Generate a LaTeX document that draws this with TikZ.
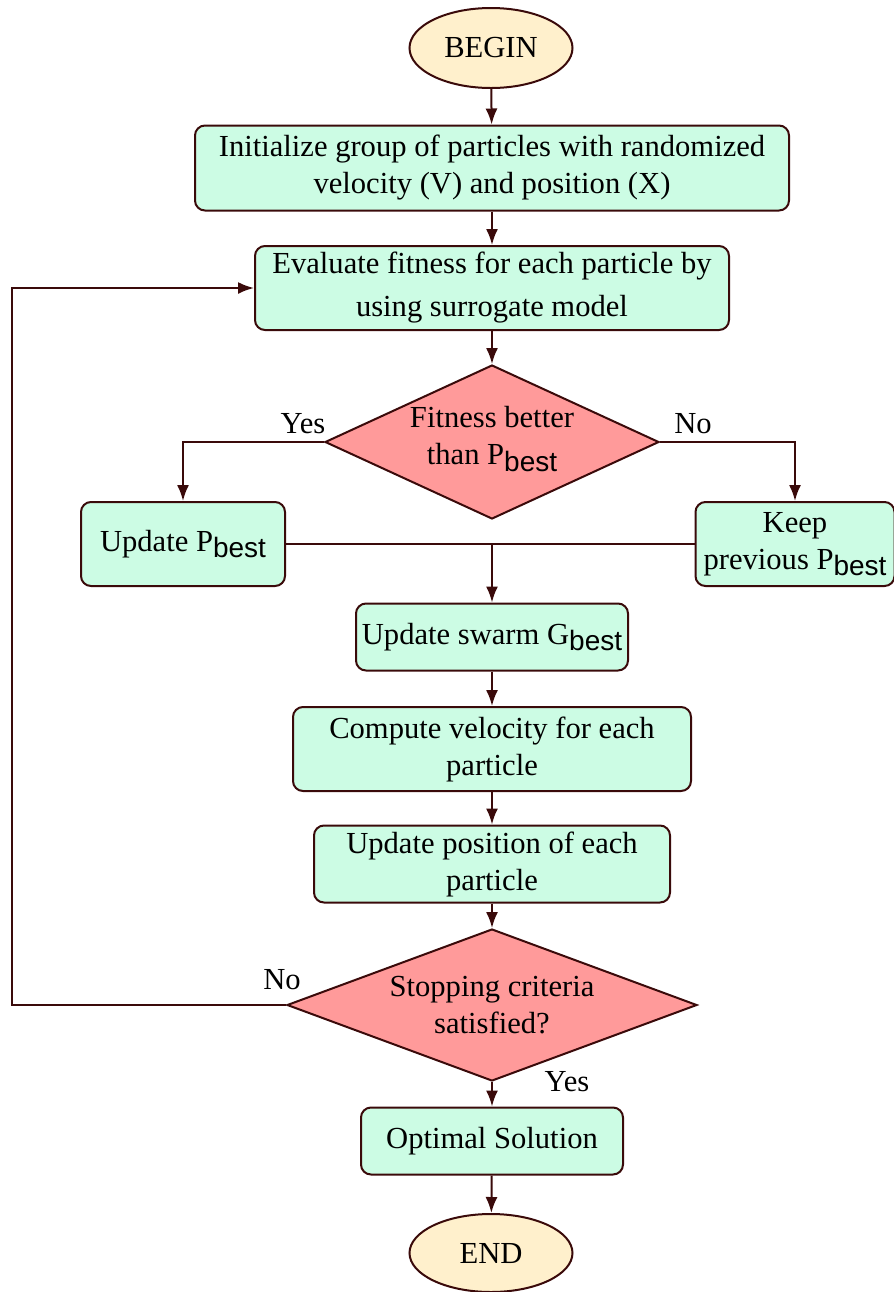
\documentclass[tikz,border=0pt]{standalone}
\usepackage{fontspec}
\setmainfont{Liberation Serif}
\setsansfont{Liberation Sans}
\usetikzlibrary{positioning,shapes.geometric,arrows.meta}
\definecolor{edge}{HTML}{3A0A0A}
\definecolor{boxfill}{HTML}{CCFCE4}
\definecolor{decfill}{HTML}{FF9A9A}
\definecolor{endfill}{HTML}{FFF0CC}
\newcommand{\best}{\raisebox{-0.45ex}{\fontsize{14}{16}\sffamily best}}

\tikzset{
  proc/.style={draw=edge, line width=1pt, fill=boxfill, rounded corners=5pt,
    align=center, inner sep=0pt},
  dec/.style={draw=edge, line width=1pt, fill=decfill, diamond, inner sep=0pt},
  term/.style={draw=edge, line width=1pt, fill=endfill, ellipse, inner sep=0pt},
  arr/.style={draw=edge, line width=1pt, -{Latex[length=8pt,width=6pt]}},
  lin/.style={draw=edge, line width=1pt},
}

\begin{document}
\begin{tikzpicture}[x=0.5pt, y=-0.5pt, font=\fontsize{15.3}{18.5}\selectfont]
  \useasboundingbox (0,0) rectangle (894,1292);

  \node (begin) [term, minimum width=81.5pt, minimum height=40pt] at (491,48) {BEGIN};
  \node (init) [proc, minimum width=297pt, minimum height=42.5pt] at (492,168)
    {Initialize group of particles with randomized\\velocity (V) and position (X)};
  \node (eval) [proc, minimum width=237pt, minimum height=42pt] at (492,288)
    {Evaluate fitness for each particle by\\[3pt]using surrogate model};
  \node (dec1) [dec, minimum width=167pt, minimum height=77pt,
    label={[align=center, yshift=1.5pt]center:Fitness better\\than P\best}] at (492,442) {};
  \node (upd) [proc, minimum width=102pt, minimum height=42pt] at (183,544)
    {Update P\best};
  \node (keep) [proc, minimum width=99.5pt, minimum height=42pt] at (795,544)
    {Keep\\previous P\best};
  \node (swarm) [proc, minimum width=136pt, minimum height=33.5pt] at (492,637)
    {Update swarm G\best};
  \node (comp) [proc, minimum width=199pt, minimum height=42pt] at (492,749)
    {Compute velocity for each\\particle};
  \node (pos) [proc, minimum width=178pt, minimum height=38.5pt] at (492,864)
    {Update position of each\\particle};
  \node (dec2) [dec, minimum width=205pt, minimum height=76pt,
    label={[align=center]center:Stopping criteria\\satisfied?}] at (492,1005) {};
  \node (opt) [proc, minimum width=131pt, minimum height=33.5pt] at (492,1141)
    {Optimal Solution};
  \node (end) [term, minimum width=81.5pt, minimum height=39pt] at (491,1253) {END};

  \coordinate (join) at (492,544);
  \coordinate (back) at (12,1005);

  \draw [arr] (begin) -- (init);
  \draw [arr] (init) -- (eval);
  \draw [arr] (eval) -- (dec1);

  \draw [arr] (dec1.west) -| (upd.north);
  \node (yes1) at (303,424) {Yes};
  \draw [arr] (dec1.east) -| (keep.north);
  \node (no1) at (693,424) {No};

  \draw [lin] (upd.east) -- (keep.west);
  \draw [arr] (join) -- (swarm);
  \draw [arr] (swarm) -- (comp);
  \draw [arr] (comp) -- (pos);
  \draw [arr] (pos) -- (dec2);

  \draw [arr] (dec2.west) -- (back) |- (eval.west);
  \node (no2) at (282,980) {No};
  \draw [arr] (dec2) -- (opt);
  \node (yes2) at (567,1082) {Yes};
  \draw [arr] (opt) -- (end);

\end{tikzpicture}
\end{document}
